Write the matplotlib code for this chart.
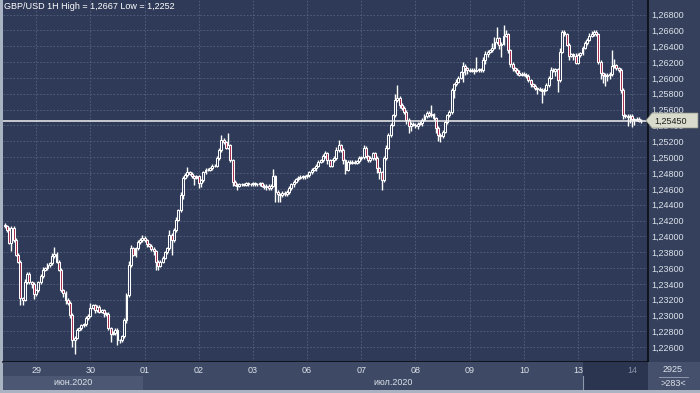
import matplotlib
matplotlib.use("Agg")
import matplotlib.pyplot as plt
from matplotlib.patches import Rectangle, Polygon
from matplotlib.lines import Line2D
import matplotlib.transforms as mtransforms
import numpy as np
import pandas as pd

# GBP/USD hourly closes, in 1e-4 price units (one row per trading day)
closes = [
    12413, 12408, 12392, 12411, 12395, 12377, 12368, 12322, 12320, 12342, 12353, 12342, 12340, 12327,
    12332, 12342, 12350, 12358, 12360, 12364, 12366, 12375, 12378, 12368, 12358, 12332,
    12329, 12320, 12316, 12301, 12269, 12272, 12282, 12284, 12288, 12289, 12297, 12300,
    12310, 12313, 12307, 12311, 12305, 12307, 12303, 12302, 12284, 12277, 12278, 12282,
    12269, 12269, 12274, 12294, 12326, 12364, 12385, 12377, 12385, 12393, 12395, 12398,
    12395, 12390, 12388, 12384, 12381, 12368, 12363, 12368, 12373, 12380, 12385, 12402,
    12395, 12408, 12421, 12433, 12452, 12474, 12477, 12481, 12479, 12476, 12474, 12476,
    12467, 12471, 12481, 12484, 12484, 12486, 12489, 12489, 12499, 12509, 12522, 12519,
    12512, 12515, 12496, 12469, 12465, 12464, 12466, 12466, 12465, 12467, 12466, 12466,
    12467, 12466, 12466, 12467, 12464, 12462, 12464, 12461, 12464, 12476, 12456, 12453,
    12452, 12455, 12453, 12456, 12461, 12466, 12469, 12472, 12474, 12475, 12476, 12476,
    12477, 12481, 12484, 12486, 12489, 12494, 12496, 12501, 12505, 12496, 12489, 12496,
    12499, 12509, 12515, 12509, 12496, 12484, 12494, 12493, 12494, 12493, 12495, 12499,
    12500, 12512, 12501, 12496, 12499, 12505, 12499, 12486, 12481, 12471, 12499, 12512,
    12528, 12541, 12553, 12572, 12575, 12566, 12562, 12557, 12547, 12539, 12542, 12541,
    12539, 12542, 12543, 12547, 12552, 12556, 12553, 12554, 12549, 12537, 12528, 12527,
    12532, 12544, 12553, 12557, 12585, 12592, 12595, 12600, 12607, 12615, 12612, 12610,
    12609, 12610, 12609, 12610, 12611, 12610, 12623, 12630, 12633, 12635, 12638, 12645,
    12650, 12642, 12643, 12653, 12655, 12635, 12618, 12612, 12610, 12606, 12604, 12605,
    12604, 12602, 12597, 12592, 12590, 12587, 12586, 12585, 12584, 12585, 12591, 12600,
    12610, 12609, 12611, 12597, 12633, 12658, 12655, 12642, 12628, 12630, 12628, 12619,
    12629, 12631, 12638, 12644, 12648, 12653, 12655, 12658, 12655, 12620, 12606, 12604,
    12602, 12604, 12605, 12615, 12616, 12612, 12610, 12585, 12553, 12552, 12551, 12552,
    12548, 12547, 12548, 12546, 12545,
]
first_open = 12415

# upper / lower shadow beyond the candle body, in 1e-4 price units
hi_wick = [
    2, 2, 4, 2, 2, 3, 2, 2, 2, 4, 2, 2, 2, 2,
    2, 2, 2, 3, 2, 2, 2, 4, 8, 2, 2, 2, 2, 2, 2, 2, 2, 2, 2, 2, 2, 2, 2, 2,
    6, 2, 2, 2, 2, 2, 2, 2, 2, 2, 2, 2, 2, 2, 2, 3, 2, 5, 4, 2, 2, 2, 3, 4,
    2, 2, 2, 2, 2, 2, 2, 2, 2, 2, 2, 6, 2, 2, 4, 2, 4, 2, 3, 7, 2, 2, 2, 2,
    2, 2, 2, 2, 2, 2, 2, 2, 2, 2, 6, 2, 2, 15, 2, 2, 2, 2, 2, 2, 2, 2, 2, 2,
    2, 2, 2, 2, 2, 2, 2, 2, 2, 9, 2, 2, 2, 2, 2, 2, 2, 2, 2, 2, 2, 2, 2, 2,
    2, 2, 2, 2, 2, 2, 2, 3, 3, 2, 2, 2, 2, 4, 7, 2, 2, 2, 2, 2, 2, 2, 2, 2,
    2, 3, 2, 2, 2, 2, 2, 2, 2, 2, 2, 3, 3, 2, 2, 8, 16, 2, 2, 2, 2, 2, 2, 2,
    2, 2, 2, 2, 2, 2, 2, 12, 2, 2, 2, 2, 2, 2, 2, 2, 2, 2, 4, 2, 2, 5, 2, 2,
    2, 2, 2, 16, 2, 2, 4, 4, 2, 2, 6, 6, 14, 2, 2, 14, 6, 2, 2, 2, 2, 2, 4, 2,
    2, 2, 3, 2, 2, 2, 2, 2, 2, 2, 2, 2, 4, 2, 2, 2, 5, 3, 2, 2, 2, 2, 2, 4,
    2, 2, 2, 2, 2, 4, 4, 3, 2, 2, 2, 2, 2, 2, 2, 20, 8, 2, 2, 2, 2, 2, 2, 2,
    2, 2, 3, 3, 2,
]
lo_wick = [
    2, 3, 2, 10, 2, 2, 2, 9, 6, 2, 2, 2, 5, 6,
    2, 2, 2, 2, 2, 2, 2, 2, 2, 2, 2, 2, 5, 5, 2, 4, 8, 17, 2, 2, 2, 2, 2, 2,
    2, 2, 4, 2, 2, 2, 5, 2, 2, 10, 2, 2, 6, 4, 2, 2, 3, 2, 2, 2, 3, 2, 2, 2,
    2, 3, 2, 2, 4, 10, 6, 2, 2, 2, 2, 2, 18, 2, 2, 2, 2, 5, 2, 2, 2, 2, 9, 2,
    6, 5, 2, 2, 2, 2, 2, 2, 2, 2, 2, 2, 2, 2, 2, 6, 2, 5, 2, 2, 2, 2, 2, 2,
    2, 2, 2, 2, 2, 2, 3, 2, 2, 2, 12, 10, 8, 2, 2, 2, 2, 2, 4, 2, 2, 2, 2, 4,
    2, 2, 2, 2, 3, 2, 2, 2, 2, 5, 2, 2, 2, 2, 2, 2, 5, 5, 2, 2, 2, 2, 2, 2,
    2, 2, 2, 2, 2, 2, 2, 6, 8, 12, 2, 2, 2, 2, 2, 2, 2, 4, 2, 2, 5, 8, 6, 2,
    2, 4, 2, 4, 2, 2, 2, 2, 2, 6, 8, 8, 3, 2, 2, 2, 2, 10, 2, 2, 2, 12, 8, 5,
    2, 2, 4, 2, 2, 2, 2, 6, 4, 2, 2, 2, 2, 6, 15, 2, 2, 4, 4, 3, 2, 2, 2, 2,
    2, 2, 2, 4, 2, 2, 6, 2, 16, 6, 2, 2, 2, 2, 6, 15, 2, 2, 2, 2, 6, 2, 5, 2,
    2, 2, 2, 2, 2, 2, 2, 2, 2, 2, 8, 10, 12, 6, 6, 2, 2, 2, 2, 4, 5, 2, 12, 8,
    10, 6, 2, 2, 2,
]
price_ticks = [1.226 + 0.002 * k for k in range(22)]
month_names = {6: "июн.2020", 7: "июл.2020"}
bars_total = "2925"

# hourly bars, weekends skipped
times = pd.date_range("2020-06-26 10:00", "2020-07-14 04:00", freq="h")
times = times[times.dayofweek < 5]

SCALE = 1e4
c = np.array(closes) / SCALE
o = np.r_[first_open, closes[:-1]] / SCALE
hi = np.maximum(o, c) + np.array(hi_wick) / SCALE
lo = np.minimum(o, c) - np.array(lo_wick) / SCALE
x = np.arange(len(c))

BG = "#2e3a57"
PANEL = "#34405c"
STRIP = "#3d4965"
RED = "#a5274a"
TXT = "#dde2ea"
FONT = "Liberation Sans"
W, H = 700, 393


def fpt(px, py):
    """pixel position (from top-left) -> figure fraction"""
    return px / W, 1 - py / H


fig = plt.figure(figsize=(7, 3.93), dpi=100, facecolor="#aab3c2")
fig.patches.append(Rectangle((648 / W, 31 / H), 52 / W, 362 / H, transform=fig.transFigure,
                             facecolor=PANEL, edgecolor="none", zorder=-1))

ax = fig.add_axes([3 / W, 31 / H, 645 / W, 362 / H])
ax.set_facecolor(BG)
ax.set_xlim(-0.7, 285)
ax.set_ylim(1.22415, 1.26983)

day_idx = np.flatnonzero(times.hour == 0)
ax.set_xticks(day_idx)
ax.set_yticks(price_ticks)
ax.yaxis.tick_right()
ax.set_yticklabels([f"{v:.5f}".replace(".", ",") for v in price_ticks])
ax.tick_params(axis="y", length=0, pad=2.2, labelsize=6.5, labelcolor=TXT)
ax.tick_params(axis="x", length=0, labelbottom=False)
for lab in ax.get_yticklabels():
    lab.set_fontfamily(FONT)
ax.grid(True, color="#56637f", linestyle=(0, (2, 2)), linewidth=0.6, zorder=0)
ax.set_axisbelow(True)
for s in ("top", "left"):
    ax.spines[s].set_visible(False)
for s in ("right", "bottom"):
    ax.spines[s].set_color("#0b0d12")
    ax.spines[s].set_linewidth(1.2)

# candles: hollow for rising, red for falling
up = c >= o
ax.vlines(x, lo, hi, color="white", linewidth=1.0, zorder=2)
ax.bar(x, c - o, bottom=o, width=0.85, color=np.where(up, BG, RED),
       edgecolor="white", linewidth=0.75, zorder=3)

ax.axhline(c[-1], color="#f0f0f0", linewidth=1.1, zorder=4)

ax.text(1.5 / 645, 1 - 2 / 362, "GBP/USD 1H High = {} Low = {}".format(
            f"{hi.max():.4f}".replace(".", ","), f"{lo.min():.4f}".replace(".", ",")),
        transform=ax.transAxes, ha="left", va="top", color="white", fontsize=6.5,
        family=FONT, zorder=5)

# current price marker (drawn over the axis labels, as in the terminal)
tag = Polygon([fpt(646, 120.5), fpt(652, 113), fpt(698, 113), fpt(698, 128), fpt(652, 128)],
              closed=True, transform=fig.transFigure, facecolor="#d9dccc",
              edgecolor="#8e9184", linewidth=0.5, zorder=5)
fig.patches.append(tag)
fig.text(*fpt(654, 121), f"{c[-1]:.5f}".replace(".", ","), ha="left", va="center",
         fontsize=6.5, family=FONT, color="#1c1c1c", zorder=6)

# time strip
axb = fig.add_axes([3 / W, 3 / H, 645 / W, 28 / H])
axb.set_xlim(ax.get_xlim())
axb.set_ylim(0, 1)
axb.set_facecolor(STRIP)
axb.set_xticks([])
axb.set_yticks([])
for s in axb.spines.values():
    s.set_visible(False)

dark_from = (583 - 3) / 645
axb.add_patch(Rectangle((dark_from, 0), 1 - dark_from, 1, transform=axb.transAxes,
                        facecolor="#2b3550", edgecolor="none", zorder=0))
axb.add_line(Line2D([dark_from, dark_from], [0, 0.5], transform=axb.transAxes,
                    color="#8e98ad", linewidth=0.8))

blend = mtransforms.blended_transform_factory(axb.transData, axb.transAxes)
x0, x1 = ax.get_xlim()
for m, name in month_names.items():
    idx = np.flatnonzero(times.month == m)
    a = max(idx[0] - 0.5, x0)
    b = min(idx[-1] + 0.5, x1)
    if m == 6:
        axb.add_patch(Rectangle((a, 0), b - a, 0.5, transform=blend,
                                facecolor="#4b5773", edgecolor="none", zorder=0))
    axb.text((a + b) / 2, 0.27, name, transform=blend, ha="center", va="center",
             fontsize=6.5, family=FONT, color=TXT)

for i in day_idx:
    frac = (i - x0) / (x1 - x0)
    col = "#8790a5" if frac > dark_from else TXT
    axb.text(i, 0.68, times[i].strftime("%d"), transform=blend, ha="center", va="center",
             fontsize=6.5, family=FONT, color=col)

# corner box
fig.patches.append(Rectangle((648 / W, 3 / H), 52 / W, 28 / H, transform=fig.transFigure,
                             facecolor="#45516c", edgecolor="none", zorder=1))
fig.text(*fpt(673, 370), bars_total, ha="center", va="center", fontsize=6.5,
         family=FONT, color=TXT)
fig.lines.append(Line2D([659 / W, 688 / W], [1 - 377 / H] * 2, transform=fig.transFigure,
                        color="#9aa3b5", linewidth=0.6))
fig.text(*fpt(673, 384), f">{len(c)}<", ha="center", va="center", fontsize=6.5,
         family=FONT, color=TXT)

fig.savefig("out.png", dpi=100, facecolor=fig.get_facecolor())
